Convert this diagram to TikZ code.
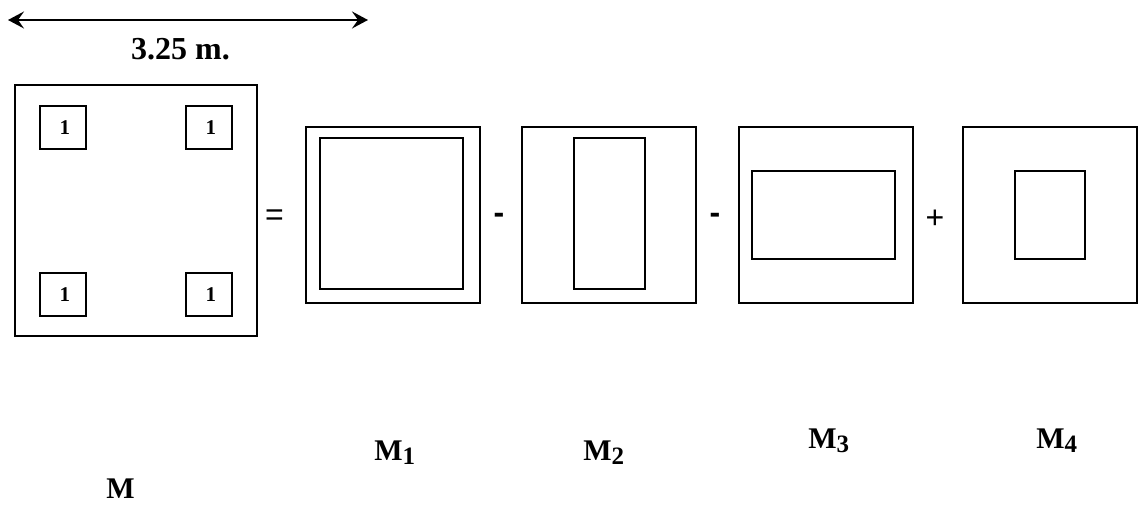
\documentclass[tikz,border=0pt]{standalone}
\usepackage{fontspec}
\setmainfont{Liberation Serif}
\newfontfamily\opfont{Liberation Sans}
\usetikzlibrary{positioning, arrows.meta}
\newcommand{\msub}[1]{\raisebox{-1.6pt}{\fontsize{12.5}{12.5}\selectfont #1}}

\begin{document}
\begin{tikzpicture}[
        x=0.5pt, y=-0.5pt,
        box/.style={draw, rectangle, line width=1pt, inner sep=0pt},
        cell/.style={box, minimum width=23pt, minimum height=21.5pt, font=\fontsize{10.5}{10.5}\selectfont\bfseries},
        outer/.style={box, minimum width=87pt, minimum height=88pt},
        op/.style={inner sep=0pt, font=\opfont\fontsize{16}{16}\selectfont},
        lbl/.style={anchor=base west, inner sep=0pt, font=\fontsize{15}{15}\selectfont\bfseries},
        arrow/.style={{Stealth[length=8pt, width=8.5pt, inset=3pt]}-{Stealth[length=8pt, width=8.5pt, inset=3pt]}, line width=1pt}
    ]
    \useasboundingbox (0,0) rectangle (1138,506);

    % Dimension
    \coordinate (dimL) at (8,20);
    \coordinate (dimR) at (368,20);
    \draw[arrow] (dimL) -- (dimR);
    \node[anchor=base, inner sep=0pt, font=\fontsize{16}{16}\selectfont\bfseries] (dim) at (180.5,60) {3.25 m.};

    % Slab M
    \node[box, minimum width=121pt, minimum height=125.5pt] (m) at (136,210.5) {};
    \node[cell] (c1) at (63,127.5) {\,1};
    \node[cell] (c2) at (209,127.5) {\,1};
    \node[cell] (c3) at (63,294.5) {\,1};
    \node[cell] (c4) at (209,294.5) {\,1};

    % Parts
    \node[outer] (m1out) at (393,215) {};
    \node[box, minimum width=71.5pt, minimum height=75.5pt] (m1in) at (391.5,213.5) {};
    \node[outer] (m2out) at (609,215) {};
    \node[box, minimum width=35.5pt, minimum height=75.5pt] (m2in) at (609.5,213.5) {};
    \node[outer] (m3out) at (826,215) {};
    \node[box, minimum width=71.5pt, minimum height=44pt] (m3in) at (823.5,215) {};
    \node[outer] (m4out) at (1050,215) {};
    \node[box, minimum width=35pt, minimum height=44pt] (m4in) at (1050,215) {};

    % Operators
    \node[op] (eq) at (274.5,217.5) {=};
    \node[op, font=\opfont\fontsize{16}{16}\selectfont\bfseries] (minus1) at (499,218.5) {-};
    \node[op, font=\opfont\fontsize{16}{16}\selectfont\bfseries] (minus2) at (715,218.5) {-};
    \node[op] (plus) at (935,219.5) {+};

    % Labels
    \node[lbl] (lm) at (106,499) {M};
    \node[lbl] (lm1) at (374,461) {M\msub{1}};
    \node[lbl] (lm2) at (583,461) {M\msub{2}};
    \node[lbl] (lm3) at (808,449) {M\msub{3}};
    \node[lbl] (lm4) at (1036,449) {M\msub{4}};
\end{tikzpicture}
\end{document}
